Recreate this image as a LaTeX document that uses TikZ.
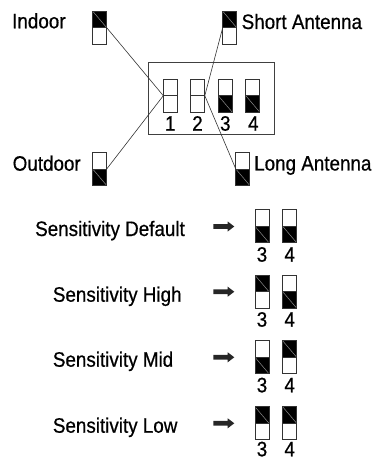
\documentclass[tikz,border=0pt]{standalone}
\usepackage{fontspec}
\setmainfont{Liberation Sans}[FakeStretch=0.9,FakeBold=0.6]
\begin{document}
\begin{tikzpicture}[x=1bp,y=-1bp,
  lbl/.style={anchor=base west,inner sep=0pt,font=\fontsize{21}{25}\selectfont},
  num/.style={anchor=base,inner sep=0pt,font=\fontsize{21}{25}\selectfont},
  sw/.style={draw=black!80,line width=0.8bp,fill=white,minimum width=14bp,minimum height=33bp,inner sep=0pt,outer sep=0pt},
  swoff/.style={sw,path picture={\draw[black!80,line width=0.8bp] (path picture bounding box.west) -- (path picture bounding box.east);}},
  swup/.style={sw,path picture={\fill[black] (path picture bounding box.north west) rectangle (path picture bounding box.east);
     \draw[black!45,line width=0.5bp] (path picture bounding box.north west) -- (path picture bounding box.east);
     \draw[black!80,line width=0.8bp] (path picture bounding box.west) -- (path picture bounding box.east);}},
  swdown/.style={sw,path picture={\fill[black] (path picture bounding box.west) rectangle (path picture bounding box.south east);
     \draw[black!45,line width=0.5bp] (path picture bounding box.west) -- (path picture bounding box.south east);
     \draw[black!80,line width=0.8bp] (path picture bounding box.west) -- (path picture bounding box.east);}},
  conn/.style={draw=black!80,line width=0.6bp},
  fatarrow/.pic={\fill[black!85] (0,-2.4) -- (14.4,-2.4) -- (14.4,-5) -- (21,0) -- (14.4,5) -- (14.4,2.4) -- (0,2.4) -- cycle;}
]
\useasboundingbox (0,0) rectangle (377,460);

% main box
\node[draw=black!75,line width=0.8bp,minimum width=125.6bp,minimum height=71.6bp,inner sep=0pt] (box) at (211.5,98.5) {};
\node[swoff] (s1) at (170.3,95.7) {};
\node[swoff] (s2) at (197.8,95.7) {};
\node[swdown] (s3) at (225.3,95.7) {};
\node[swdown] (s4) at (252.8,95.7) {};
\node[num] (n1) at (170.3,130.7) {1};
\node[num] (n2) at (197.5,130.7) {2};
\node[num] (n3) at (225.3,130.7) {3};
\node[num] (n4) at (253.3,130.7) {4};

% outer switches
\node[swup] (in) at (99.7,27.7) {};
\node[swup] (sa) at (229.7,27.7) {};
\node[swdown] (out) at (99.7,169) {};
\node[swdown] (la) at (242.8,169) {};
\node[lbl] (tin) at (12,28.3) {Indoor};
\node[lbl] (tsa) at (241.5,29) {Short Antenna};
\node[lbl] (tout) at (12.5,170.7) {Outdoor};
\node[lbl] (tla) at (254,170.5) {Long Antenna};

\draw[conn] (in.east) -- (s1.west);
\draw[conn] (out.east) -- (s1.west);
\draw[conn] (sa.west) -- (s2.east);
\draw[conn] (la.west) -- (s2.east);

% sensitivity table
\node[lbl] (t1) at (35,236) {Sensitivity Default};
\pic at (213.3,226.5) {fatarrow};
\node[swdown] (a3) at (262,226.3) {};
\node[swdown] (a4) at (289.7,226.3) {};
\node[num] (an3) at (262,261.7) {3};
\node[num] (an4) at (289.7,261.7) {4};

\node[lbl] (t2) at (52.7,301.7) {Sensitivity High};
\pic at (213.3,291.7) {fatarrow};
\node[swup] (b3) at (262,291.7) {};
\node[swdown] (b4) at (289.7,291.7) {};
\node[num] (bn3) at (262,326.7) {3};
\node[num] (bn4) at (289.7,326.7) {4};

\node[lbl] (t3) at (52.7,366.7) {Sensitivity Mid};
\pic at (213.3,357.3) {fatarrow};
\node[swdown] (c3) at (262,357.3) {};
\node[swup] (c4) at (289.7,357.3) {};
\node[num] (cn3) at (262,392.3) {3};
\node[num] (cn4) at (289.7,392.3) {4};

\node[lbl] (t4) at (52.7,432.7) {Sensitivity Low};
\pic at (213.3,423.3) {fatarrow};
\node[swup] (d3) at (262,423.3) {};
\node[swup] (d4) at (289.7,423.3) {};
\node[num] (dn3) at (262,456.3) {3};
\node[num] (dn4) at (289.7,456.3) {4};
\end{tikzpicture}
\end{document}
